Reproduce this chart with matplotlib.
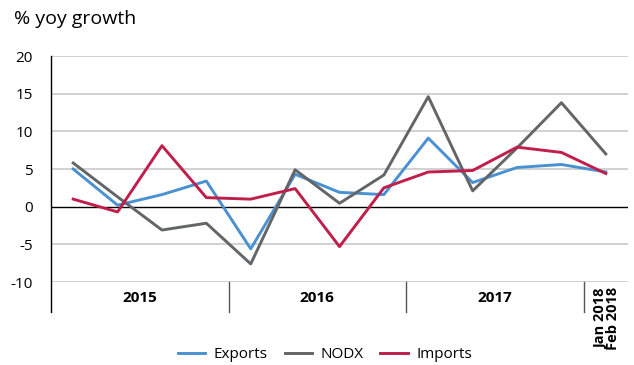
import matplotlib
matplotlib.use("Agg")
import matplotlib.pyplot as plt
import numpy as np

plt.rcParams['font.family'] = ['Open Sans', 'DejaVu Sans']

# quarterly 2015Q1..2017Q4, then Jan-Feb 2018
periods = ["2015Q1", "2015Q2", "2015Q3", "2015Q4",
           "2016Q1", "2016Q2", "2016Q3", "2016Q4",
           "2017Q1", "2017Q2", "2017Q3", "2017Q4",
           "Jan-Feb 2018"]
exports = [5.0, 0.2, 1.6, 3.4, -5.6, 4.3, 1.9, 1.6, 9.1, 3.2, 5.2, 5.6, 4.6]
nodx = [5.8, 1.3, -3.1, -2.2, -7.6, 4.9, 0.45, 4.2, 14.6, 2.1, 7.8, 13.8, 7.0]
imports = [1.0, -0.7, 8.1, 1.2, 1.0, 2.4, -5.3, 2.5, 4.6, 4.8, 7.9, 7.2, 4.4]
year_labels = ["2015", "2016", "2017"]
last_label = "Jan 2018\nFeb 2018"
yticks = [-10, -5, 0, 5, 10, 15, 20]

c_exp = "#4a91d2"
c_nodx = "#636567"
c_imp = "#bf1f4a"

fig = plt.figure(figsize=(6.34, 3.65), dpi=100)
ax = fig.add_axes([51/634, 1-282/365, 577/634, 226/365])

x = np.arange(len(periods)) + 0.5

# gridlines
for v in yticks:
    if v == 0:
        ax.axhline(v, color="black", lw=1.0, zorder=2)
    else:
        ax.axhline(v, color="#c9c9c9", lw=1.2, zorder=1)

ax.plot(x, exports, color=c_exp, lw=2.1, label="Exports", zorder=3)
ax.plot(x, nodx, color=c_nodx, lw=2.1, label="NODX", zorder=3)
ax.plot(x, imports, color=c_imp, lw=2.1, label="Imports", zorder=4)

ax.set_xlim(0, len(periods))
ax.set_ylim(-10, 20)
for s in ax.spines.values():
    s.set_visible(False)
ax.set_xticks([])
ax.set_yticks(yticks)
ax.set_yticklabels([str(v) for v in yticks], fontsize=11)
ax.tick_params(axis="y", length=0, pad=13)

# left axis and year separators run down into the label band
low = -30/226
ax.plot([0, 0], [low, 1], transform=ax.get_xaxis_transform(),
        color="black", lw=1.0, clip_on=False)
for sep in [4, 8, 12]:
    ax.plot([sep, sep], [low, 0], transform=ax.get_xaxis_transform(),
            color="#555555", lw=1.0, clip_on=False)

trans = ax.get_xaxis_transform()
for i, lab in enumerate(year_labels):
    ax.text(4*i + 2, -16/226, lab, transform=trans, ha="center", va="center",
            fontsize=11, fontweight="bold")
ax.text(12.53, -5/226, last_label, transform=trans, ha="center", va="top",
        rotation=90, fontsize=10.5, fontweight="bold", linespacing=0.8)

fig.text(14/634, 1-19/365, "% yoy growth", fontsize=14, va="center", ha="left")

fig.legend(loc="center", bbox_to_anchor=(325/634, 1-355/365), ncol=3,
           frameon=False, fontsize=11, handlelength=1.8, columnspacing=1.1,
           handletextpad=0.55)

fig.savefig("out.png", dpi=100)
